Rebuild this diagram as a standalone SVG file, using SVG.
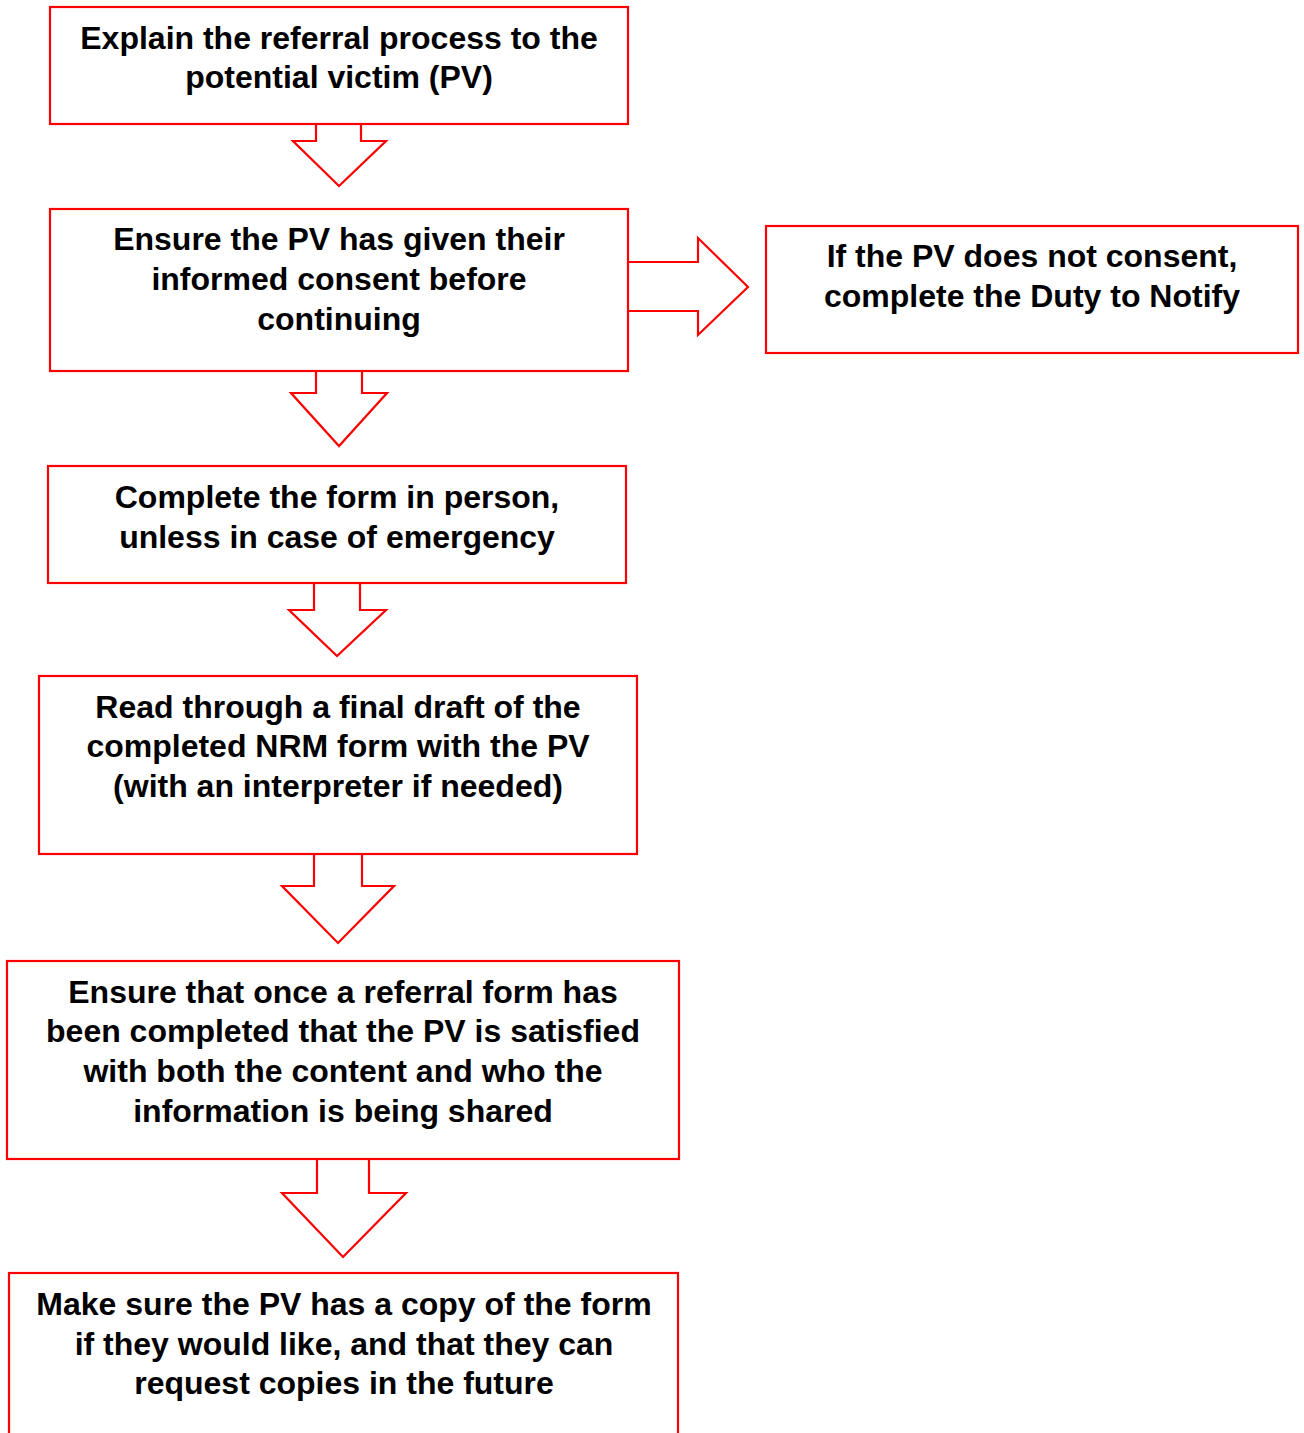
<svg xmlns="http://www.w3.org/2000/svg" width="1304" height="1433" viewBox="0 0 1304 1433">
<style>
.box{fill:#fff;stroke:#ff0000;stroke-width:2.2}
.arr{fill:#fff;stroke:#ff0000;stroke-width:2.2;stroke-linejoin:miter}
text{font-family:"Liberation Sans",Arial,sans-serif;font-weight:bold;font-size:32px;fill:#000;text-anchor:middle}
</style>
<rect width="1304" height="1433" fill="#fff"/>
<g id="connectors">
<path class="arr" d="M316,124 V141 H293 L339,186 L386,141 H361 V124"/>
<path class="arr" d="M627,262 H698 V238 L748,287 L698,335 V311 H627"/>
<path class="arr" d="M316,371 V393 H291 L339,446 L387,393 H362 V371"/>
<path class="arr" d="M314,583 V610 H289 L337,656 L386,610 H360 V583"/>
<path class="arr" d="M314,854 V886 H282 L338,943 L394,886 H362 V854"/>
<path class="arr" d="M317,1159 V1193 H282 L343,1257 L406,1193 H369 V1159"/>
</g>
<g id="n1"><rect class="box" x="50" y="7" width="578" height="117"/>
<text x="339" y="49">Explain the referral process to the</text>
<text x="339" y="88">potential victim (PV)</text></g>
<g id="n2"><rect class="box" x="50" y="209" width="578" height="162"/>
<text x="339" y="250">Ensure the PV has given their</text>
<text x="339" y="290">informed consent before</text>
<text x="339" y="330">continuing</text></g>
<g id="n3"><rect class="box" x="766" y="226" width="532" height="127"/>
<text x="1032" y="267">If the PV does not consent,</text>
<text x="1032" y="307">complete the Duty to Notify</text></g>
<g id="n4"><rect class="box" x="48" y="466" width="578" height="117"/>
<text x="337" y="508">Complete the form in person,</text>
<text x="337" y="548">unless in case of emergency</text></g>
<g id="n5"><rect class="box" x="39" y="676" width="598" height="178"/>
<text x="338" y="718">Read through a final draft of the</text>
<text x="338" y="757">completed NRM form with the PV</text>
<text x="338" y="797">(with an interpreter if needed)</text></g>
<g id="n6"><rect class="box" x="7" y="961" width="672" height="198"/>
<text x="343" y="1003">Ensure that once a referral form has</text>
<text x="343" y="1042">been completed that the PV is satisfied</text>
<text x="343" y="1082">with both the content and who the</text>
<text x="343" y="1122">information is being shared</text></g>
<g id="n7"><rect class="box" x="9" y="1273" width="669" height="180"/>
<text x="344" y="1315">Make sure the PV has a copy of the form</text>
<text x="344" y="1355">if they would like, and that they can</text>
<text x="344" y="1394">request copies in the future</text></g>
</svg>
